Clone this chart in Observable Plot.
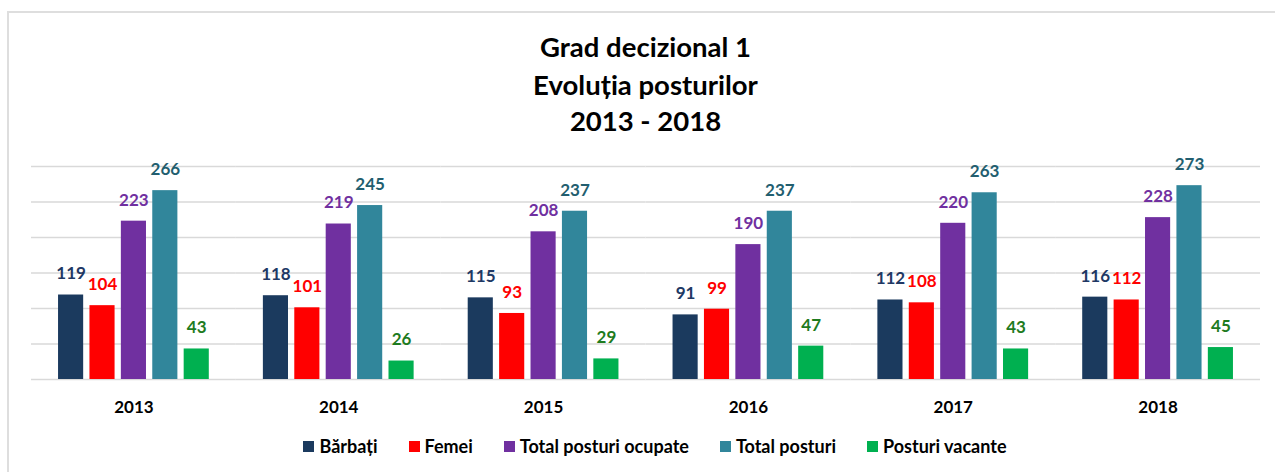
<!DOCTYPE html>
<html><head><meta charset="utf-8">
<script src="https://cdn.jsdelivr.net/npm/d3@7"></script>
<script src="https://cdn.jsdelivr.net/npm/@observablehq/plot@0.6"></script>
<style>
body{margin:0;width:1275px;height:472px;overflow:hidden;background:#fff;font-family:Lato,sans-serif;position:relative}
#frame{position:absolute;left:7px;top:11px;width:1300px;height:500px;border:2px solid #dedede;border-right:none;border-bottom:none;box-sizing:border-box}
.t{position:absolute;left:31px;width:1229px;text-align:center;font-weight:bold;font-size:27.5px;line-height:32px;color:#000}
#chart{position:absolute;left:0;top:140px}
#legend{position:absolute;top:436px;left:0;width:1310px;display:flex;justify-content:center;align-items:center;font-weight:bold;font-size:18px;line-height:20px;color:#000}
.item{display:flex;align-items:center;margin:0 15.5px}
.sw{width:11px;height:11px;margin-right:5px}
</style></head>
<body>
<div id="frame"></div>
<div class="t" style="top:31px">Grad decizional 1</div>
<div class="t" style="top:69px">Evoluția posturilor</div>
<div class="t" style="top:105px">2013 - 2018</div>
<div id="chart"></div>
<div id="legend"></div>
<script>
const years = ["2013", "2014", "2015", "2016", "2017", "2018"];
const series = ["Bărbați", "Femei", "Total posturi ocupate", "Total posturi", "Posturi vacante"];
const barbati = [119, 118, 115, 91, 112, 116];
const femei = [104, 101, 93, 99, 108, 112];
const ocupate = [223, 219, 208, 190, 220, 228];
const totalPosturi = [266, 245, 237, 237, 263, 273];
const vacante = [43, 26, 29, 47, 43, 45];
const barColors = ["#1B3A5E", "#FF0000", "#7030A0", "#31869B", "#00B050"];
const labelColors = ["#203864", "#FF0000", "#7030A0", "#225E6F", "#1E7B1E"];
const yTicks = [0, 50, 100, 150, 200, 250, 300];

const seriesValues = [barbati, femei, ocupate, totalPosturi, vacante];
const data = years.flatMap((y, i) => seriesValues.map((arr, j) => ({year: y, series: series[j], value: arr[i]})));

const textMarks = series.map((s, j) => Plot.text(data.filter(d => d.series === s), {
  fx: "year", x: "series", y: "value", text: "value", dy: -21,
  fill: labelColors[j], fontSize: 17, fontWeight: "bold"
}));

const chart = Plot.plot({
  width: 1275, height: 280,
  marginTop: 26, marginBottom: 41, marginLeft: 31, marginRight: 15,
  style: {fontFamily: "Lato, sans-serif", background: "transparent", color: "#000"},
  fx: {domain: years, padding: 0, label: null, round: false, axis: null},
  x: {domain: series, axis: null, paddingInner: 0.2, paddingOuter: 0.861, round: false},
  y: {domain: [0, 300], axis: null},
  color: {domain: series, range: barColors},
  marks: [
    Plot.ruleY(yTicks, {stroke: "#d9d9d9", strokeWidth: 1.6}),
    Plot.barY(data, {fx: "year", x: "series", y: "value", fill: "series"}),
    ...textMarks,
    Plot.axisFx({anchor: "bottom", tickSize: 0, tickPadding: 21, fontSize: 17, fontWeight: "bold", label: null, fill: "#000"})
  ]
});
document.getElementById("chart").appendChild(chart);

const leg = document.getElementById("legend");
series.forEach((s, j) => {
  const it = document.createElement("div"); it.className = "item";
  const sw = document.createElement("div"); sw.className = "sw"; sw.style.background = chart.scale("color").apply(s);
  const tx = document.createElement("span"); tx.textContent = s;
  it.appendChild(sw); it.appendChild(tx); leg.appendChild(it);
});
</script>
</body></html>
